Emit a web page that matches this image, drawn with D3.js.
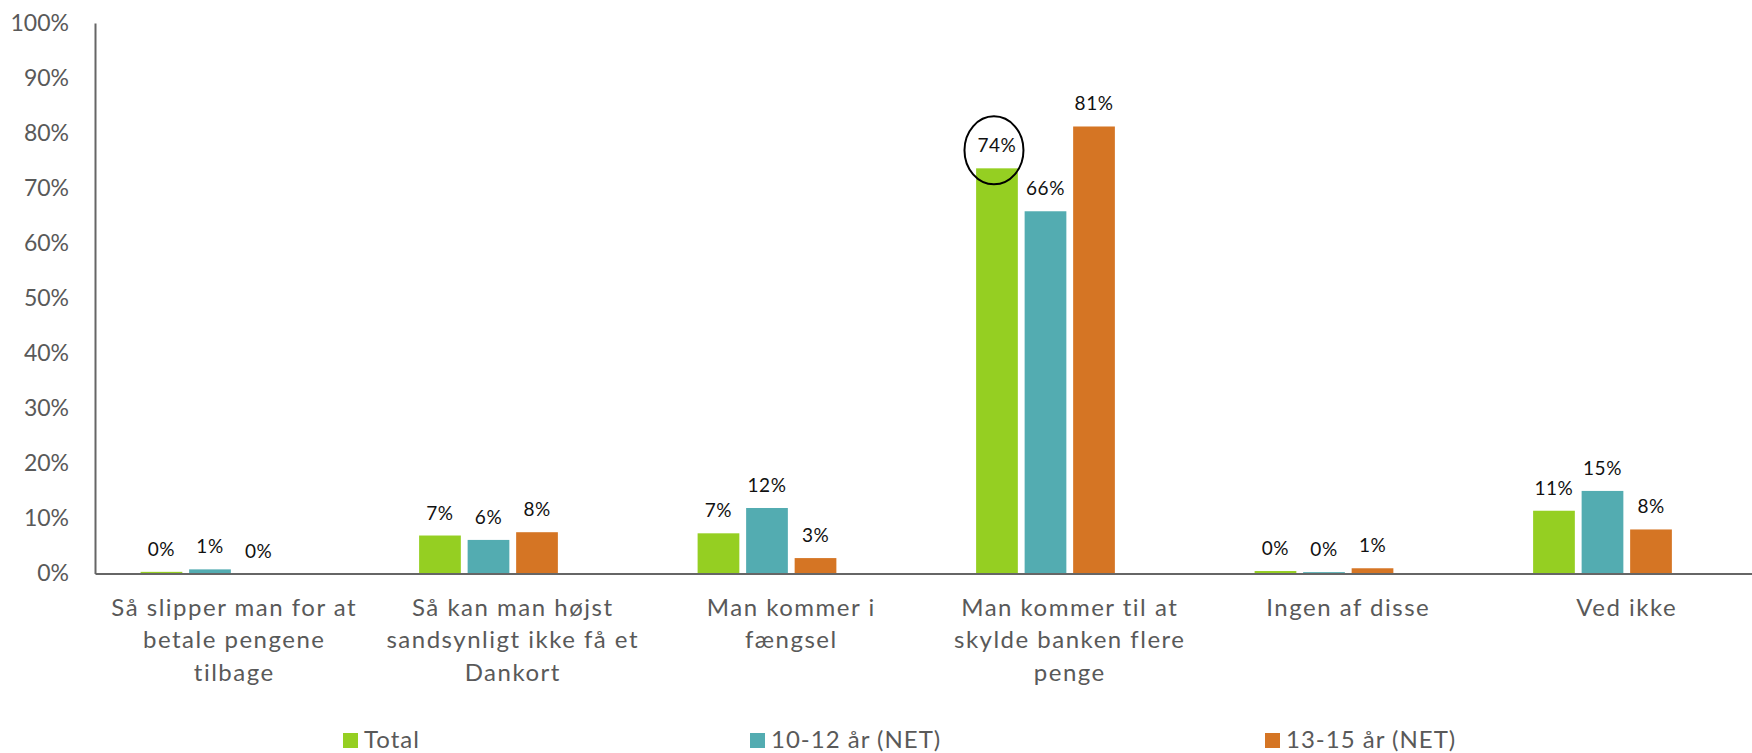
<!DOCTYPE html>
<html><head><meta charset="utf-8">
<script src="https://cdn.jsdelivr.net/npm/d3@7"></script>
<style>body{margin:0;background:#fff;overflow:hidden}</style>
</head><body>
<svg id="chart" width="1752" height="753"></svg>
<script>
// ---- data ----
const categories = [
  "Så slipper man for at betale pengene tilbage",
  "Så kan man højst sandsynligt ikke få et Dankort",
  "Man kommer i fængsel",
  "Man kommer til at skylde banken flere penge",
  "Ingen af disse",
  "Ved ikke"
];
const categoryLines = [
  ["Så slipper man for at", "betale pengene", "tilbage"],
  ["Så kan man højst", "sandsynligt ikke få et", "Dankort"],
  ["Man kommer i", "fængsel"],
  ["Man kommer til at", "skylde banken flere", "penge"],
  ["Ingen af disse"],
  ["Ved ikke"]
];
const seriesNames = ["Total", "10-12 år (NET)", "13-15 år (NET)"];
const totalValues  = [0.3, 6.9, 7.3, 73.6, 0.45, 11.4];
const age1012Values = [0.75, 6.1, 11.9, 65.8, 0.25, 15.0];
const age1315Values = [0.0, 7.5, 2.8, 81.2, 0.95, 8.0];
const yTicks = [0, 10, 20, 30, 40, 50, 60, 70, 80, 90, 100];
const highlighted = { series: "Total", category: "Man kommer til at skylde banken flere penge" };

// ---- style / layout ----
const colors = { "Total": "#95cf22", "10-12 år (NET)": "#53acb1", "13-15 år (NET)": "#d57524" };
const seriesValues = [totalValues, age1012Values, age1315Values];
const legendX = [343, 750, 1265];

const svg = d3.select("#chart");
const plotLeft = 95, bandW = 278.5;
const x0 = d3.scaleBand().domain(categories).range([plotLeft, plotLeft + bandW * categories.length]);
const x1 = d3.scaleBand().domain([...seriesNames, "_blank"]).range([0, x0.bandwidth()])
  .paddingInner(0.14).paddingOuter(0.94);
const y = d3.scaleLinear().domain([0, 100]).range([573.5, 23]);

const axisColor = "#666";
const textColor = "#595959";

// y axis
const ya = svg.append("g").attr("transform", `translate(${plotLeft},0)`)
  .call(d3.axisLeft(y).tickValues(yTicks).tickSize(0).tickPadding(26).tickFormat(d => d + "%"));
ya.select(".domain").attr("stroke", axisColor).attr("stroke-width", 2);
ya.selectAll(".tick text").attr("font-family", "Lato, sans-serif").attr("font-size", 23)
  .attr("fill", textColor);

// bars
const rows = categories.map((c, i) => ({ c, vals: seriesNames.map((s, j) => ({ s, v: seriesValues[j][i], c })) }));
const groups = svg.append("g").selectAll("g").data(rows).join("g")
  .attr("transform", d => `translate(${x0(d.c)},0)`);
groups.selectAll("rect").data(d => d.vals).join("rect")
  .attr("x", d => x1(d.s)).attr("width", x1.bandwidth())
  .attr("y", d => y(d.v)).attr("height", d => y(0) - y(d.v))
  .attr("fill", d => colors[d.s]);
groups.selectAll("text").data(d => d.vals).join("text")
  .attr("x", d => x1(d.s) + x1.bandwidth() / 2)
  .attr("y", d => y(d.v) - 16)
  .attr("text-anchor", "middle")
  .attr("font-family", "Lato, sans-serif").attr("font-size", 19).attr("fill", "#111")
  .attr("letter-spacing", 0.5)
  .text(d => Math.round(d.v) + "%");

// highlight ellipse
const hv = seriesValues[seriesNames.indexOf(highlighted.series)][categories.indexOf(highlighted.category)];
svg.append("ellipse")
  .attr("cx", x0(highlighted.category) + x1(highlighted.series) + x1.bandwidth() / 2 - 3)
  .attr("cy", y(hv) - 18)
  .attr("rx", 29.5).attr("ry", 34)
  .attr("fill", "none").attr("stroke", "#000").attr("stroke-width", 2);

// x axis
const xa = svg.append("g").attr("transform", `translate(0,${y(0)})`)
  .call(d3.axisBottom(x0).tickSize(0).tickSizeOuter(0).tickFormat(""));
xa.select(".domain").attr("stroke", axisColor).attr("stroke-width", 2);
xa.selectAll(".tick text").each(function (d) {
  const lines = categoryLines[categories.indexOf(d)];
  const t = d3.select(this).attr("y", 0).attr("dy", null)
    .attr("font-family", "Lato, sans-serif").attr("font-size", 24).attr("fill", textColor)
    .attr("letter-spacing", 1.5)
    .attr("text-anchor", "middle");
  lines.forEach((ln, k) => t.append("tspan").attr("x", 0).attr("y", 42 + k * 32.5).text(ln));
});

// legend
const lg = svg.append("g").selectAll("g").data(seriesNames).join("g")
  .attr("transform", (d, i) => `translate(${legendX[i]},733)`);
lg.append("rect").attr("width", 15).attr("height", 15).attr("fill", d => colors[d]);
lg.append("text").attr("x", 21).attr("y", 15).attr("font-family", "Lato, sans-serif")
  .attr("font-size", 24).attr("fill", textColor).attr("letter-spacing", 1).text(d => d);
</script>
</body></html>
